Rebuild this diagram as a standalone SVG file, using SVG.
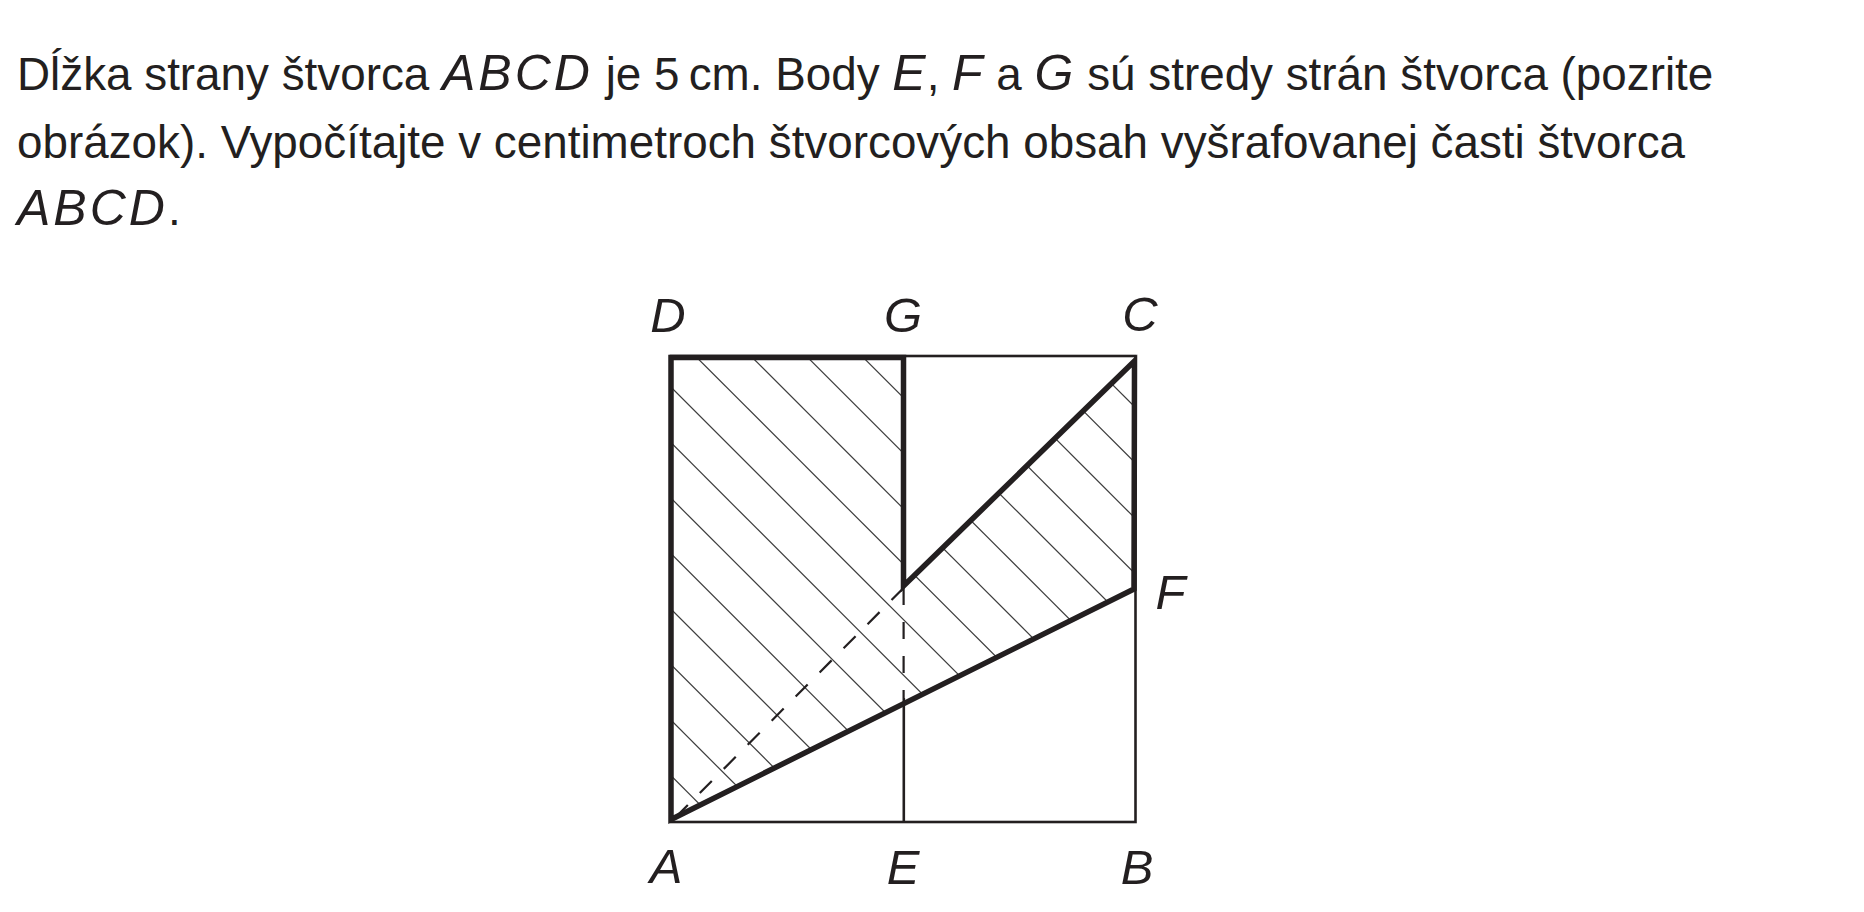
<svg xmlns="http://www.w3.org/2000/svg" width="1864" height="912" viewBox="0 0 1864 912">
<style>
.body{font-family:"Liberation Sans",Arial,sans-serif;font-size:45.8px;fill:#231f20}
.it{font-style:italic;font-size:50px;letter-spacing:1px}
.it4{font-style:italic;font-size:50px;letter-spacing:3px}
.lbl{font-family:"Liberation Sans",Arial,sans-serif;font-size:49px;font-style:italic;fill:#231f20;text-anchor:middle}
.thin{fill:none;stroke:#231f20;stroke-width:2.6}
.thick{fill:none;stroke:#231f20;stroke-width:5.5;stroke-linejoin:miter}
.hatch{stroke:#3c3c3c;stroke-width:1.2}
.dash{fill:none;stroke:#231f20;stroke-width:2.2;stroke-dasharray:17 17}
</style>
<defs>
<clipPath id="hex">
<polygon points="671,822 1135,589 1135,357 903.5,588 903.5,357 671,357"/>
</clipPath>
</defs>
<rect width="1864" height="912" fill="#ffffff"/>
<g id="question">
<text class="body" x="17" y="90">Dĺžka strany štvorca <tspan class="it4">ABCD</tspan> je 5&#8201;cm. Body <tspan class="it">E</tspan>, <tspan class="it">F</tspan> a <tspan class="it">G</tspan> sú stredy strán štvorca (pozrite</text>
<text class="body" x="17" y="157.5">obrázok). Vypočítajte v centimetroch štvorcových obsah vyšrafovanej časti štvorca</text>
<text class="body" x="17" y="225"><tspan class="it4">ABCD</tspan>.</text>
</g>
<g id="hatching" clip-path="url(#hex)">
<line class="hatch" x1="235.3" y1="340" x2="735.3" y2="840"/>
<line class="hatch" x1="290.8" y1="340" x2="790.8" y2="840"/>
<line class="hatch" x1="346.3" y1="340" x2="846.3" y2="840"/>
<line class="hatch" x1="401.8" y1="340" x2="901.8" y2="840"/>
<line class="hatch" x1="457.3" y1="340" x2="957.3" y2="840"/>
<line class="hatch" x1="512.8" y1="340" x2="1012.8" y2="840"/>
<line class="hatch" x1="568.3" y1="340" x2="1068.3" y2="840"/>
<line class="hatch" x1="623.8" y1="340" x2="1123.8" y2="840"/>
<line class="hatch" x1="679.3" y1="340" x2="1179.3" y2="840"/>
<line class="hatch" x1="734.8" y1="340" x2="1234.8" y2="840"/>
<line class="hatch" x1="790.3" y1="340" x2="1290.3" y2="840"/>
<line class="hatch" x1="845.8" y1="340" x2="1345.8" y2="840"/>
<line class="hatch" x1="901.3" y1="340" x2="1401.3" y2="840"/>
<line class="hatch" x1="956.8" y1="340" x2="1456.8" y2="840"/>
<line class="hatch" x1="1012.3" y1="340" x2="1512.3" y2="840"/>
<line class="hatch" x1="1067.8" y1="340" x2="1567.8" y2="840"/>
</g>
<g id="connectors">
<rect id="square" class="thin" x="671" y="356" width="464.5" height="466"/>
<line id="EG-solid" class="thin" x1="903.8" y1="698" x2="903.8" y2="822" stroke-width="2.4"/>
<line id="EG-dashed" class="dash" x1="903.6" y1="588" x2="903.6" y2="698"/>
<line id="AC-dashed" class="dash" x1="903.5" y1="588" x2="671" y2="822"/>
<path id="outline" class="thick" d="M671,819.5 L671,357.5 L903.5,357.5 L903.5,586 L1134.5,361 L1134,589 Z"/>
</g>
<g id="point-D"><text class="lbl" x="668" y="332">D</text></g>
<g id="point-G"><text class="lbl" x="903" y="332">G</text></g>
<g id="point-C"><text class="lbl" x="1140" y="331">C</text></g>
<g id="point-A"><text class="lbl" x="666" y="883">A</text></g>
<g id="point-E"><text class="lbl" x="903" y="884">E</text></g>
<g id="point-B"><text class="lbl" x="1137" y="884">B</text></g>
<g id="point-F"><text class="lbl" x="1170.5" y="609">F</text></g>
</svg>
